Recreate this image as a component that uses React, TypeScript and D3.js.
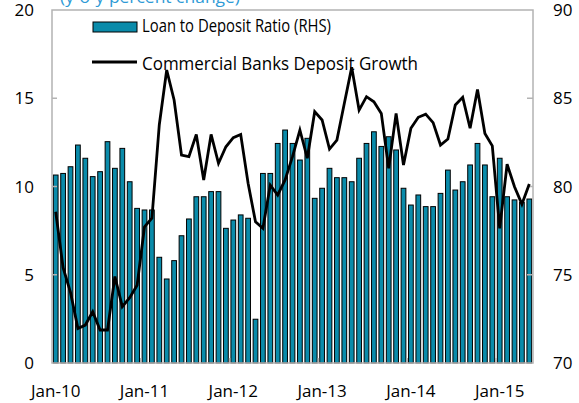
import React, { useEffect } from "react";
import * as d3 from "d3";

// Categories: monthly, Jan-2010 .. May-2015 (65 months)
const months: string[] = d3
  .timeMonth.range(new Date(2010, 0, 1), new Date(2015, 5, 1))
  .map((d) => d3.timeFormat("%b-%y")(d));

const xTickLabels = ["Jan-10", "Jan-11", "Jan-12", "Jan-13", "Jan-14", "Jan-15"];
const leftTicks = [0, 5, 10, 15, 20];
const rightTicks = [70, 75, 80, 85, 90];

// Loan to Deposit Ratio (RHS, %)
const loanToDeposit = [
  80.65, 80.74, 81.12, 82.35, 81.6, 80.56, 80.84, 82.54, 81.03, 82.16, 80.27, 78.76,
  78.67, 78.67, 75.99, 74.76, 75.8, 77.21, 78.16, 79.42, 79.42, 79.71, 79.71, 77.63,
  78.1, 78.39, 78.2, 72.48, 80.74, 80.74, 82.44, 83.2, 82.44, 81.5, 82.73, 79.33,
  79.9, 81.03, 80.5, 80.5, 80.27, 81.6, 82.44, 83.1, 82.27, 82.82, 82.07, 79.9,
  78.95, 79.52, 78.86, 78.86, 79.61, 80.93, 79.8, 80.27, 81.22, 82.44, 81.22, 79.42,
  81.6, 79.42, 79.24, 79.1, 79.29,
];

// Commercial Banks Deposit Growth (LHS, y-o-y %)
const depositGrowth = [
  8.57, 5.4, 4.0, 1.96, 2.15, 2.9, 1.87, 1.87, 4.9, 3.19, 3.7, 4.4,
  7.72, 8.2, 13.5, 16.6, 14.9, 11.78, 11.69, 12.95, 10.37, 12.95, 11.31, 12.25,
  12.77, 12.95, 10.18, 8.0, 7.63, 10.08, 9.52, 10.37, 11.69, 13.2, 11.6, 14.24,
  13.77, 12.12, 12.63, 14.7, 16.75, 14.33, 15.09, 14.8, 14.14, 11.03, 14.14, 11.22,
  13.3, 13.92, 14.1, 13.62, 12.35, 12.69, 14.62, 15.05, 13.3, 15.5, 13.0, 12.3,
  7.63, 11.26, 9.99, 9.0, 10.14,
];

const W = 579;
const H = 403;
const LEFT = 52;
const RIGHT = 533;
const TOP = 10;
const BOTTOM = 363;
const FONT = "'Open Sans', 'Noto Sans', sans-serif";
const TEAL = "#0A8BAA";
const AXIS = "#B3B3B3";

export default function App() {
  useEffect(() => {
    document.body.style.margin = "0";
  }, []);

  const x = d3
    .scaleBand<string>()
    .domain(months)
    .range([LEFT, RIGHT])
    .paddingInner(0.36)
    .paddingOuter(0.18);
  const yL = d3.scaleLinear().domain([0, 20]).range([BOTTOM, TOP]);
  const yR = d3.scaleLinear().domain([70, 90]).range([BOTTOM, TOP]);
  const step = x.step();
  const cx = (m: string) => (x(m) as number) + x.bandwidth() / 2;

  const line = d3
    .line<number>()
    .x((_, i) => cx(months[i]))
    .y((d) => yL(d))
    .curve(d3.curveLinear);

  const yearBoundaries = d3.range(12, months.length, 12).map((i) => LEFT + i * step);

  return (
    <svg width={W} height={H} style={{ display: "block" }} fontFamily={FONT}>
      <rect x={0} y={0} width={W} height={H} fill="#fff" />
      {/* bars */}
      {loanToDeposit.map((v, i) => (
        <rect
          key={"b" + i}
          x={x(months[i])}
          y={yR(v)}
          width={x.bandwidth()}
          height={BOTTOM - yR(v)}
          fill={TEAL}
          stroke="#000"
          strokeWidth={1}
        />
      ))}
      {/* plot frame */}
      <rect
        x={LEFT}
        y={TOP}
        width={RIGHT - LEFT}
        height={BOTTOM - TOP}
        fill="none"
        stroke={AXIS}
        strokeWidth={1.5}
      />
      {/* left ticks */}
      {leftTicks.slice(1, -1).map((t) => (
        <line key={"lt" + t} x1={LEFT} x2={LEFT + 5} y1={yL(t)} y2={yL(t)} stroke={AXIS} strokeWidth={1.5} />
      ))}
      {rightTicks.slice(1, -1).map((t) => (
        <line key={"rt" + t} x1={RIGHT - 6} x2={RIGHT} y1={yR(t)} y2={yR(t)} stroke={AXIS} strokeWidth={1.5} />
      ))}
      {yearBoundaries.map((bx, i) => (
        <line key={"xt" + i} x1={bx} x2={bx} y1={BOTTOM} y2={BOTTOM - 5} stroke={AXIS} strokeWidth={1.5} />
      ))}
      {/* line */}
      <path d={line(depositGrowth) || ""} fill="none" stroke="#000" strokeWidth={2.8} strokeLinejoin="miter" />
      {/* left tick labels */}
      {leftTicks.map((t) => (
        <text key={"ll" + t} x={34} y={yL(t) + 6} textAnchor="end" fontSize={17} fill="#000">
          {t}
        </text>
      ))}
      {rightTicks.map((t) => (
        <text key={"rl" + t} x={553} y={yR(t) + 6} textAnchor="start" fontSize={17} fill="#000">
          {t}
        </text>
      ))}
      {/* x tick labels */}
      {xTickLabels.map((lab, k) => (
        <text key={lab} x={cx(months[k * 12])} y={397} textAnchor="middle" fontSize={17} fill="#000">
          {lab}
        </text>
      ))}
      {/* subtitle cut off at top */}
      <text x={60} y={3} fontSize={16} fill="#2E9AD6" textLength={180} lengthAdjust="spacingAndGlyphs">
        (y-o-y percent change)
      </text>
      {/* legend */}
      <rect x={93} y={22} width={44} height={10} fill={TEAL} stroke="#000" strokeWidth={1} />
      <text x={142} y={32} fontSize={18} fill="#000" textLength={189} lengthAdjust="spacingAndGlyphs">
        Loan to Deposit Ratio (RHS)
      </text>
      <line x1={92} x2={137} y1={62} y2={62} stroke="#000" strokeWidth={2.8} />
      <text x={142} y={70} fontSize={18} fill="#000" textLength={276} lengthAdjust="spacingAndGlyphs">
        Commercial Banks Deposit Growth
      </text>
    </svg>
  );
}
